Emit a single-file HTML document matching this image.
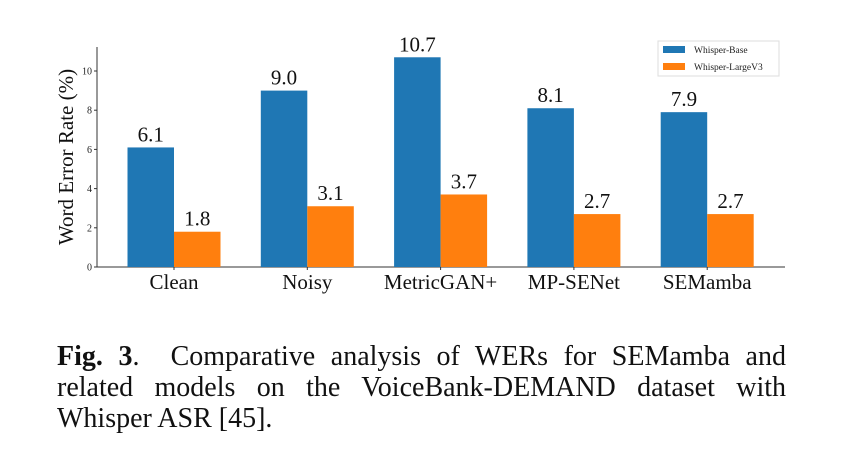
<!DOCTYPE html>
<html><head><meta charset="utf-8"><style>
body{margin:0;background:#fff;width:844px;height:474px;overflow:hidden;position:relative;font-family:"Liberation Serif",serif}
#cap{position:absolute;left:57px;top:341px;width:729px;font-size:28px;line-height:31px;color:#111}
#cap div{text-align:justify;text-align-last:justify;white-space:nowrap}
#cap div.last{text-align-last:left}
</style></head><body>
<svg width="844" height="330" style="position:absolute;left:0;top:0" font-family="Liberation Serif, serif">
<g id="g"></g>
</svg>
<div id="cap"><div><b>Fig. 3</b>.&nbsp; Comparative analysis of WERs for SEMamba and</div><div>related models on the VoiceBank-DEMAND dataset with</div><div class="last">Whisper ASR [45].</div></div>
<script>
const categories=["Clean","Noisy","MetricGAN+","MP-SENet","SEMamba"];
const baseValues=[6.1,9.0,10.7,8.1,7.9];
const largeValues=[1.8,3.1,3.7,2.7,2.7];
const yTicks=[0,2,4,6,8,10];
const seriesNames=["Whisper-Base","Whisper-LargeV3"];
const NS="http://www.w3.org/2000/svg",g=document.getElementById('g');
const x0=97,x1=785,yb=267,pu=19.6;
const y=v=>yb-v*pu;
const cx=i=>174+i*133.3;
function el(t,a,txt){const e=document.createElementNS(NS,t);for(const k in a)e.setAttribute(k,a[k]);if(txt!=null)e.textContent=txt;g.appendChild(e);return e;}
let e;
e=el('line',{x1:x0,y1:47,x2:x0,y2:yb,stroke:'#333','stroke-width':1});


e=el('line',{x1:x0,y1:yb,x2:x1,y2:yb,stroke:'#333','stroke-width':1});


yTicks.forEach(t=>{
 e=el('line',{x1:x0-3,x2:x0,y1:y(t),y2:y(t),stroke:'#333'});
 
 
 e=el('text',{x:x0-5,y:y(t)+3.5,'font-size':10,'text-anchor':'end',fill:'#222'},t);
 
 
});
e=el('text',{transform:'translate(73,157) rotate(-90)','font-size':21,'text-anchor':'middle',fill:'#111'},'Word Error Rate (%)');


const bw=46.5;
categories.forEach((c,i)=>{
 const c0=cx(i);
 [[baseValues[i],'#1f77b4',c0-bw,'bar-base'],[largeValues[i],'#ff7f0e',c0,'bar-large']].forEach(([v,col,bx,nm])=>{
  e=el('rect',{x:bx,y:y(v),width:bw,height:v*pu,fill:col});
  
  
  e=el('text',{x:bx+bw/2,y:y(v)-6,'font-size':21,'text-anchor':'middle',fill:'#111'},v.toFixed(1));
  
  
 });
 e=el('line',{x1:c0,x2:c0,y1:yb,y2:yb+3,stroke:'#333'});
 
 
 e=el('text',{x:c0,y:yb+22,'font-size':21,'text-anchor':'middle',fill:'#111'},c);
 
 
});
e=el('rect',{x:658,y:41,width:121,height:35,fill:'#fff',stroke:'#ddd'});


['#1f77b4','#ff7f0e'].forEach((col,k)=>{
 e=el('rect',{x:663,y:46+k*17,width:22,height:7,fill:col});
 
 
 e=el('text',{x:694,y:53+k*17,'font-size':9.5,fill:'#222'},seriesNames[k]);
 
 
});
</script>
</body></html>
